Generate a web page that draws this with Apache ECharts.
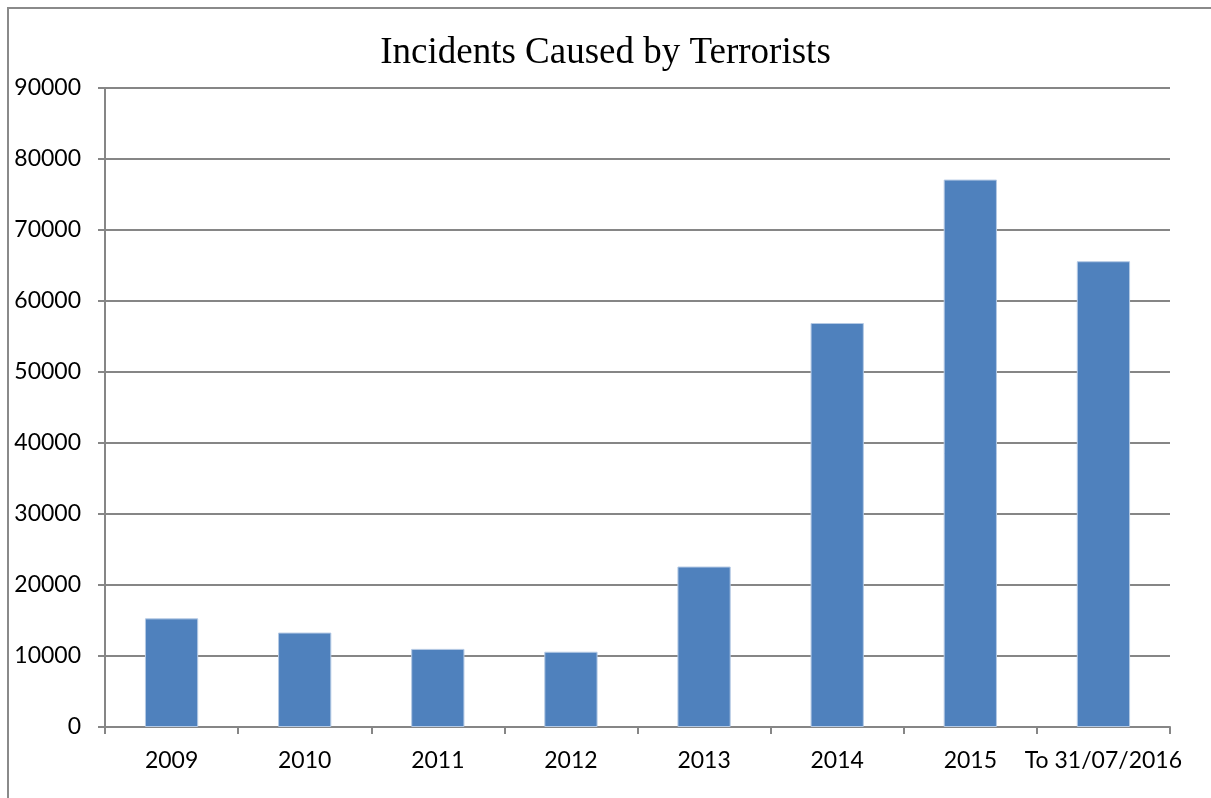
<!DOCTYPE html>
<html>
<head>
<meta charset="utf-8">
<style>
  html, body { margin: 0; padding: 0; background: #fff; }
  #chart { width: 1211px; height: 798px; }
</style>
<script src="https://cdn.jsdelivr.net/npm/echarts@6/dist/echarts.min.js"></script>
</head>
<body>
<div id="chart"></div>
<script>
// Yearly counts of terrorist-caused incidents
const categories = ['2009', '2010', '2011', '2012', '2013', '2014', '2015', 'To 31/07/2016'];
const incidents = [15300, 13300, 11000, 10600, 22600, 56900, 77100, 65600];
const yTicks = { min: 0, max: 90000, interval: 10000 };

const chart = echarts.init(document.getElementById('chart'));
const axisGray = '#868686';
const labelFont = 'Lato, "Open Sans", sans-serif';

chart.setOption({
  animation: false,
  backgroundColor: '#ffffff',
  graphic: [{
    type: 'rect',
    shape: { x: 8, y: 8, width: 1400, height: 1000 },
    style: { fill: 'none', stroke: '#8a8a8a', lineWidth: 2 },
    silent: true
  }],
  title: {
    text: 'Incidents Caused by Terrorists',
    left: 'center',
    top: 30,
    textStyle: {
      fontFamily: '"Liberation Serif", "Times New Roman", serif',
      fontSize: 37,
      fontWeight: 'normal',
      color: '#000'
    }
  },
  grid: { left: 105, right: 41, top: 88, bottom: 71, containLabel: false },
  xAxis: {
    type: 'category',
    data: categories,
    axisLine: { lineStyle: { color: axisGray, width: 2 } },
    axisTick: { show: true, alignWithLabel: false, length: 7, lineStyle: { color: axisGray, width: 2 } },
    axisLabel: { color: '#000', fontFamily: labelFont, fontSize: 23, margin: 22, interval: 0 }
  },
  yAxis: {
    type: 'value',
    min: yTicks.min,
    max: yTicks.max,
    interval: yTicks.interval,
    axisLine: { show: true, lineStyle: { color: axisGray, width: 2 } },
    axisTick: { show: true, length: 7, lineStyle: { color: axisGray, width: 2 } },
    axisLabel: {
      color: '#000', fontFamily: labelFont, fontSize: 23, margin: 24,
      formatter: (v) => String(v)
    },
    splitLine: { show: true, lineStyle: { color: axisGray, width: 2 } }
  },
  series: [{
    type: 'bar',
    data: incidents,
    barCategoryGap: '60%',
    itemStyle: { color: '#4f81bd', borderColor: '#b4c9e4', borderWidth: 1 }
  }]
});
</script>
</body>
</html>
